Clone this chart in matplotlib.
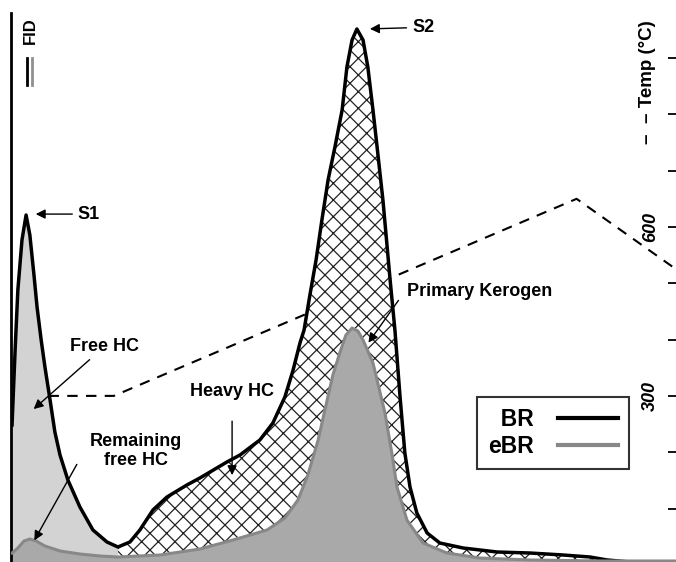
import numpy as np
import matplotlib.pyplot as plt
from matplotlib.lines import Line2D

plt.rcParams['font.family'] = ['Liberation Sans', 'DejaVu Sans']
plt.rcParams['font.weight'] = 'bold'
plt.rcParams['hatch.linewidth'] = 0.9

# time (min) vs FID signal (arbitrary, S2 = 100)
br_t = [0.03, 0.12, 0.20, 0.32, 0.44, 0.55, 0.67, 0.76, 0.88, 0.99, 1.14, 1.28, 1.43,
        1.66, 2.01, 2.39, 2.80, 3.12, 3.47, 3.76, 4.14, 4.55, 5.13, 5.51, 6.30, 6.68,
        7.26, 7.64, 7.99, 8.23, 8.43, 8.55, 8.72, 8.90, 9.07, 9.25, 9.45, 9.66, 9.80,
        9.95, 10.09, 10.27, 10.41, 10.56, 10.68, 10.85, 11.06, 11.20, 11.35, 11.49,
        11.64, 11.84, 12.14, 12.51, 13.19, 14.18, 15.14, 16.10, 16.89, 17.39, 18.06, 19.40]
br_f = [25.75, 39.85, 51.13, 60.53, 65.23, 61.47, 53.95, 47.93, 41.73, 36.65, 30.45,
        24.44, 20.11, 15.41, 10.34, 6.02, 3.76, 2.82, 3.76, 6.02, 9.77, 12.22, 14.47,
        15.79, 18.80, 20.11, 22.93, 26.13, 31.02, 36.09, 41.17, 43.61, 50.19, 56.77,
        64.29, 71.80, 78.01, 84.96, 93.05, 98.12, 100.19, 98.12, 93.05, 84.96, 78.01,
        68.05, 53.01, 43.61, 31.02, 20.49, 14.10, 9.21, 5.45, 3.57, 2.63, 1.88, 1.69,
        1.32, 0.94, 0.38, 0.0, 0.0]

ebr_t = [0.03, 0.20, 0.38, 0.55, 0.73, 0.99, 1.43, 2.01, 2.60, 3.12, 4.35, 5.51, 6.48,
         7.47, 7.99, 8.37, 8.66, 8.96, 9.19, 9.39, 9.60, 9.77, 9.95, 10.12, 10.27,
         10.56, 10.91, 11.11, 11.26, 11.55, 12.02, 12.72, 13.68, 15.14, 17.18, 19.40]
ebr_f = [1.69, 2.63, 3.95, 4.32, 3.95, 3.01, 2.07, 1.50, 1.13, 0.94, 1.32, 2.44, 4.14,
         6.02, 8.27, 11.65, 16.35, 22.93, 29.51, 35.15, 39.47, 42.67, 43.98, 43.42,
         41.73, 37.41, 28.01, 20.49, 14.10, 7.89, 3.57, 1.69, 0.75, 0.38, 0.19, 0.19]

temp_t = [0.0, 3.0, 16.5, 19.4]
temp_c = [300, 300, 650, 525]

split_t = 3.12  # end of free HC (S1) window

fig = plt.figure(figsize=(6.76, 5.62), dpi=100)
ax = fig.add_axes([11/676, 0, 665/676, 549/562])
ax2 = ax.twinx()
ax.set_zorder(ax2.get_zorder() + 1)
ax.patch.set_visible(False)

br_t = np.array(br_t); br_f = np.array(br_f)
ebr_t = np.array(ebr_t); ebr_f = np.array(ebr_f)

# eBR area
ax.fill_between(ebr_t, 0, ebr_f, color='#a9a9a9', lw=0, zorder=1)
# free HC (light grey) and heavy HC/kerogen (hatched) between the two curves
m1 = br_t <= split_t
m2 = ebr_t <= split_t
ax.fill(np.r_[br_t[m1], ebr_t[m2][::-1]], np.r_[br_f[m1], ebr_f[m2][::-1]],
        color='#d3d3d3', lw=0, zorder=1)
m1 = br_t >= split_t
m2 = ebr_t >= split_t
ax.fill(np.r_[br_t[m1], ebr_t[m2][::-1]], np.r_[br_f[m1], ebr_f[m2][::-1]],
        facecolor='white', edgecolor='#222222', hatch='xx', lw=0, zorder=1)

ax.plot(br_t, br_f, color='black', lw=2.5, zorder=3, label='  BR')
ax.plot(ebr_t, ebr_f, color='#888888', lw=2.2, zorder=3, label='eBR')

ax.set_xlim(0, 19.4)
ax.set_ylim(0, 103.2)
ax.set_xticks([])
ax.set_yticks([])
for s in ['top', 'bottom', 'right']:
    ax.spines[s].set_visible(False)
ax.spines['left'].set_linewidth(2)

# temperature program
ax2.plot(temp_t, temp_c, color='black', lw=1.5, ls=(0, (5, 4)))
ax2.set_ylim(5, 980)
for s in ['top', 'bottom', 'left', 'right']:
    ax2.spines[s].set_visible(False)
ax2.set_yticks(range(100, 1000, 100))
ax2.set_yticklabels(['', '', '300', '', '', '600', '', '', ''])
ax2.tick_params(axis='y', direction='in', length=6, width=1.3, pad=-18.5, labelsize=13)
for lab in ax2.get_yticklabels():
    lab.set_rotation(90)
    lab.set_ha('center')
    lab.set_va('center')
    lab.set_style('italic')

arrow = dict(arrowstyle='-|>', color='black', lw=1, mutation_scale=14)
kw = dict(fontsize=13, fontweight='bold')
ax.annotate('S1', xy=(0.64, 65.4), xytext=(1.95, 65.4), va='center', ha='left',
            arrowprops=arrow, **kw)
ax.annotate('S2', xy=(10.39, 100.2), xytext=(11.7, 100.5), va='center', ha='left',
            arrowprops=arrow, **kw)
ax.annotate('Free HC', xy=(0.6, 28.4), xytext=(1.72, 40.5), va='center', ha='left',
            arrowprops=arrow, **kw)
ax.text(3.65, 20.9, 'Remaining\nfree HC', va='center', ha='center', linespacing=1.15, **kw)
ax.annotate('', xy=(0.64, 3.6), xytext=(1.96, 18.8), arrowprops=arrow)
ax.text(6.45, 32.0, 'Heavy HC', va='center', ha='center', **kw)
ax.annotate('', xy=(6.45, 15.8), xytext=(6.45, 27.0), arrowprops=arrow)
ax.text(11.55, 50.9, 'Primary Kerogen', va='center', ha='left', **kw)
ax.annotate('', xy=(10.38, 40.8), xytext=(11.35, 49.6), arrowprops=arrow)

# axis captions
fig.text(30/676, 1 - 31/562, 'FID', rotation=90, ha='center', va='center', fontsize=12)
fig.add_artist(Line2D([27/676, 27/676], [1 - 58/562, 1 - 85/562], color='black', lw=2))
fig.add_artist(Line2D([32/676, 32/676], [1 - 58/562, 1 - 85/562], color='#909090', lw=2))
fig.text(648/676, 1 - 82/562, '–  – Temp (°C)', rotation=90, ha='center', va='center',
         fontsize=13.5)

leg = ax.legend(loc='upper left', bbox_to_anchor=(477/676, 1 - 397/562),
                bbox_transform=fig.transFigure, markerfirst=False, fancybox=False,
                edgecolor='#333333', framealpha=1, prop=dict(size=16.5, weight='bold'),
                handlelength=2.6, handletextpad=1.05, labelspacing=0.15, borderpad=0.5,
                borderaxespad=0)
leg.get_frame().set_linewidth(1.5)
for h in leg.get_lines():
    h.set_linewidth(3)

fig.savefig('out.png', dpi=100)
